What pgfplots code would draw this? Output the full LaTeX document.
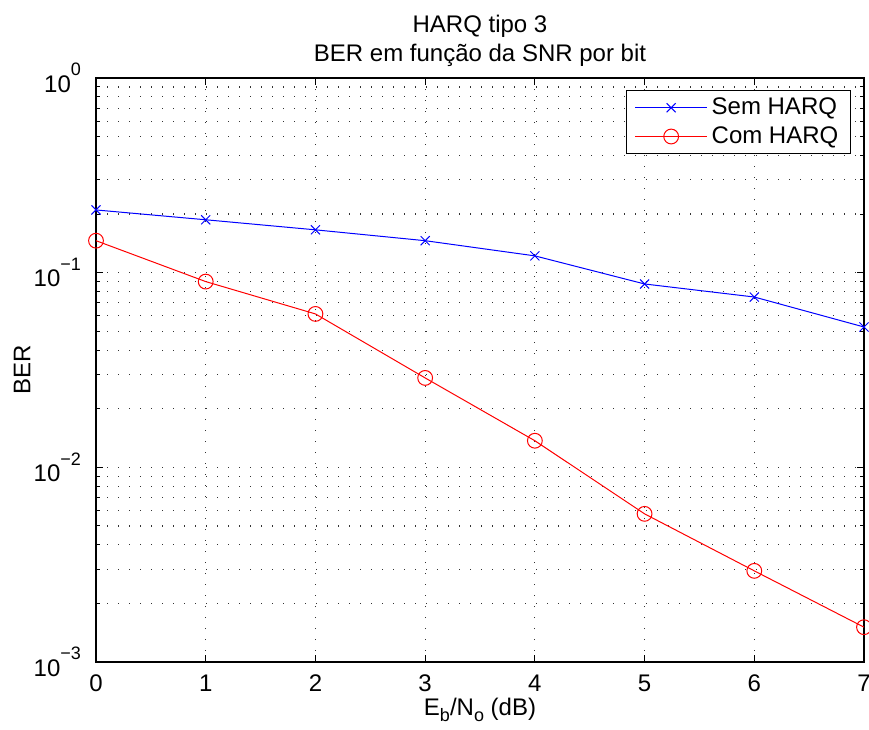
\documentclass[border=0pt]{standalone}
\usepackage{fontspec}
\setmainfont{Liberation Sans}
\usepackage{pgfplots}
\pgfplotsset{compat=1.18}
\begin{document}
\begin{tikzpicture}
\begin{axis}[
  width=384pt, height=292pt, scale only axis,
  xmin=0, xmax=7, ymin=1e-3, ymax=1,
  ymode=log, log basis y=10,
  xtick={0,1,2,3,4,5,6,7},
  ytick={1e-3,1e-2,1e-1,1},
  minor ytick={2e-3,3e-3,4e-3,5e-3,6e-3,7e-3,8e-3,9e-3,2e-2,3e-2,4e-2,5e-2,6e-2,7e-2,8e-2,9e-2,2e-1,3e-1,4e-1,5e-1,6e-1,7e-1,8e-1,9e-1},
  yticklabels={10\raisebox{1.3ex}{\fontsize{9}{10}\selectfont −3},10\raisebox{1.3ex}{\fontsize{9}{10}\selectfont −2},10\raisebox{1.3ex}{\fontsize{9}{10}\selectfont −1},10\raisebox{1.3ex}{\fontsize{9}{10}\selectfont 0}},
  /pgf/number format/assume math mode=true,
  tick align=inside,
  major tick length=3.5pt, minor tick length=2pt,
  tick style={black, line width=0.5pt},
  axis line style={black, line width=0.6pt},
  grid=both,
  major grid style={black!80, line width=0.6pt, dash pattern=on 0.6pt off 4.9pt},
  minor grid style={black!80, line width=0.6pt, dash pattern=on 0.6pt off 4.9pt},
  tick label style={font=\fontsize{12}{14}\selectfont},
  xticklabel style={yshift=-3pt},
  yticklabel style={xshift=-4pt},
  label style={font=\fontsize{12}{14}\selectfont},
  xlabel={E\raisebox{-0.45ex}{\fontsize{9}{10}\selectfont b}/N\raisebox{-0.45ex}{\fontsize{9}{10}\selectfont o} (dB)},
  ylabel={BER},
  xlabel style={at={(axis description cs:0.5,0)}, anchor=center, yshift=-24pt},
  ylabel style={at={(axis description cs:0,0.5)}, anchor=center, yshift=37pt},
  title={HARQ tipo 3\\BER em função da SNR por bit},
  title style={align=center, font=\fontsize{12}{14.5}\selectfont, yshift=-4pt},
  clip=false,
  legend style={at={(rel axis cs:0.983,0.979)}, anchor=north east,
    font=\fontsize{12}{14}\selectfont, draw=black, line width=0.6pt,
    inner xsep=4pt, inner ysep=1.5pt, row sep=0.5pt},
  legend cell align=left,
  legend image code/.code={\draw[mark repeat=2,mark phase=2] plot coordinates {(0pt,0pt) (18pt,0pt) (36pt,0pt)};},
]
\addplot[blue, line width=0.5pt, mark=x, mark size=3.2pt] coordinates {
 (0,0.210) (1,0.187) (2,0.166) (3,0.146) (4,0.122) (5,0.0875) (6,0.075) (7,0.0526)
};
\addlegendentry{Sem HARQ}
\addplot[red, line width=0.5pt, mark=o, mark size=3.7pt, mark options={fill=none}] coordinates {
 (0,0.146) (1,0.090) (2,0.0614) (3,0.0288) (4,0.0137) (5,0.00577) (6,0.00294) (7,0.00151)
};
\addlegendentry{Com HARQ}
\end{axis}
\pgfresetboundingbox
\path (current axis.south west) +(-48pt,-33.5pt) (current axis.north east) +(2.5pt,39pt);
\end{tikzpicture}
\end{document}
